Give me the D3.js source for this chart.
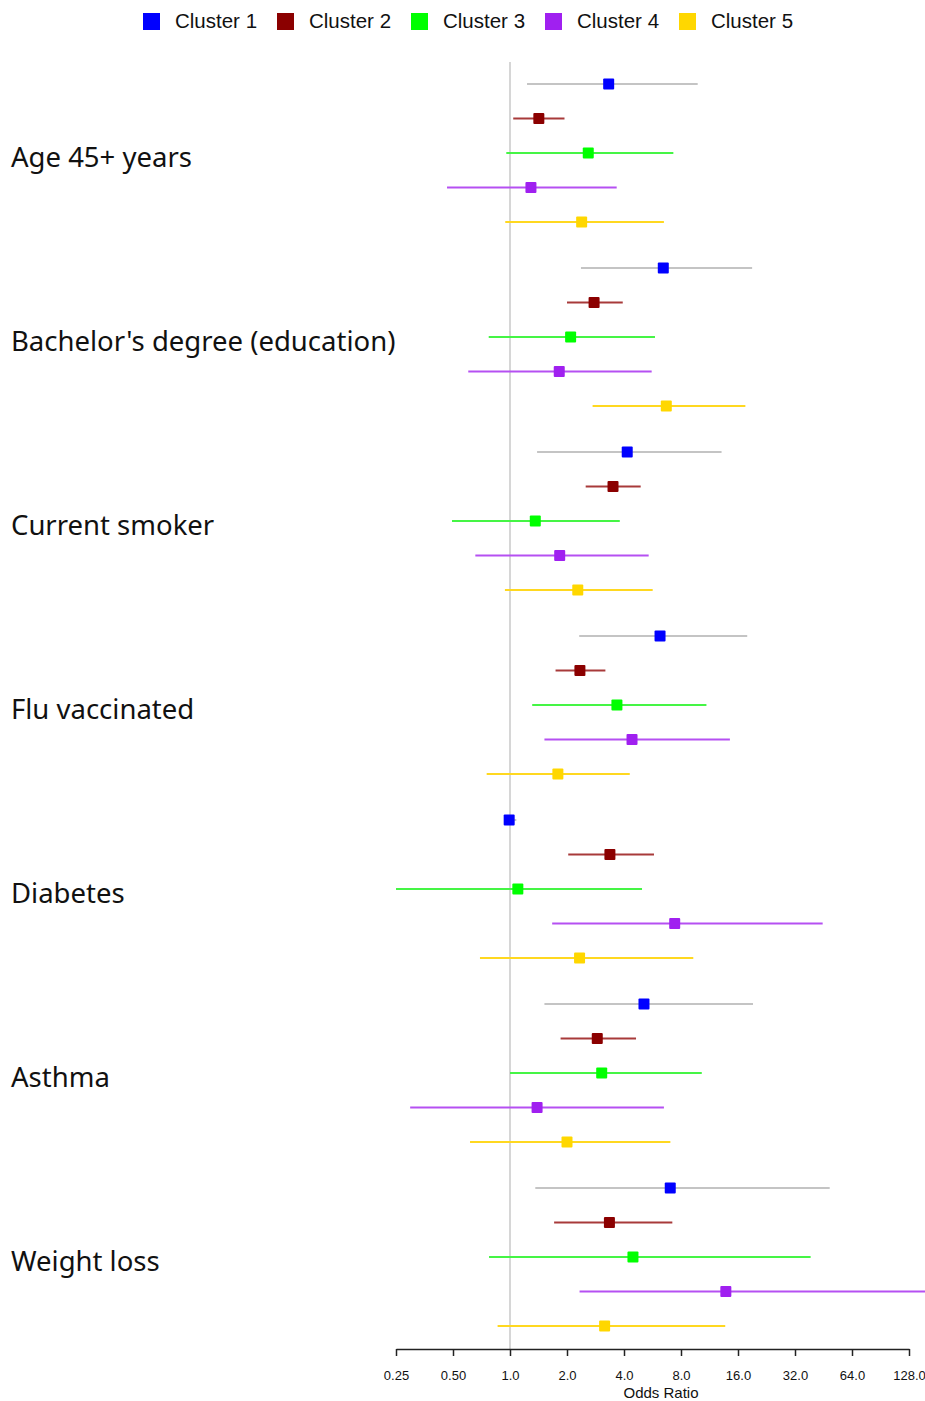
<!DOCTYPE html>
<html>
<head>
<meta charset="utf-8">
<script src="https://cdn.jsdelivr.net/npm/d3@7"></script>
<style>
  body { margin: 0; background: #fff; }
  svg { display: block; }
</style>
</head>
<body>
<svg id="chart"></svg>
<script>
// Factors (rows of groups) and clusters
const factors = ["Age 45+ years", "Bachelor's degree (education)", "Current smoker",
  "Flu vaccinated", "Diabetes", "Asthma", "Weight loss"];
const clusters = ["Cluster 1", "Cluster 2", "Cluster 3", "Cluster 4", "Cluster 5"];
const pointColors = ["#0000ff", "#8b0000", "#00ff00", "#a020f0", "#ffd700"];
const lineColors = ["#c4c4c4", "#a83a3a", "#45f545", "#b550f2", "#ffd820"];

// odds ratios, one array per cluster, in factor order
const oddsRatio = [
  [3.32, 6.45, 4.16, 6.2, 0.99, 5.1, 7.02],
  [1.42, 2.78, 3.5, 2.34, 3.37, 2.89, 3.35],
  [2.59, 2.09, 1.36, 3.67, 1.10, 3.05, 4.46],
  [1.29, 1.82, 1.83, 4.41, 7.41, 1.39, 13.8],
  [2.39, 6.69, 2.28, 1.79, 2.33, 2.0, 3.16]
];
const lowerCI = [
  [1.23, 2.37, 1.39, 2.32, 0.96, 1.52, 1.36],
  [1.04, 2.0, 2.51, 1.74, 2.03, 1.85, 1.71],
  [0.956, 0.772, 0.494, 1.31, 0.25, 1.0, 0.775],
  [0.465, 0.602, 0.656, 1.52, 1.67, 0.297, 2.33],
  [0.944, 2.73, 0.94, 0.753, 0.694, 0.615, 0.86]
];
const upperCI = [
  [9.8, 19.0, 13.1, 17.9, 1.08, 19.2, 48.8],
  [1.94, 3.94, 4.9, 3.19, 5.76, 4.63, 7.2],
  [7.29, 5.83, 3.8, 10.9, 4.98, 10.3, 38.7],
  [3.66, 5.6, 5.4, 14.5, 44.8, 6.5, 160],
  [6.5, 17.5, 5.67, 4.29, 9.29, 7.03, 13.7]
];
const tickValues = [0.25, 0.5, 1, 2, 4, 8, 16, 32, 64, 128];
const tickLabels = ["0.25", "0.50", "1.0", "2.0", "4.0", "8.0", "16.0", "32.0", "64.0", "128.0"];

const width = 925, height = 1401;
const axisY = 1349;

const svg = d3.select("#chart")
  .attr("width", width)
  .attr("height", height);

// scales
const x = d3.scaleLog().base(2)
  .domain([0.25, 128])
  .range([396, 909]);

const yGroup = d3.scaleBand()
  .domain(factors)
  .range([84, 1326])
  .paddingInner(0.25)
  .paddingOuter(0);

const yRow = d3.scalePoint()
  .domain(clusters)
  .range([0, yGroup.bandwidth()]);

// reference line at OR = 1
svg.append("line")
  .attr("x1", x(1)).attr("x2", x(1))
  .attr("y1", 62).attr("y2", axisY)
  .attr("stroke", "#d6d6d6")
  .attr("stroke-width", 2);

// rows
const rows = [];
clusters.forEach((c, ci) => {
  factors.forEach((f, fi) => {
    rows.push({ factor: f, cluster: c, ci: ci,
      or: oddsRatio[ci][fi], lo: lowerCI[ci][fi], hi: upperCI[ci][fi] });
  });
});

const plot = svg.append("g");

plot.selectAll(".ci")
  .data(rows)
  .enter()
  .append("line")
  .attr("class", "ci")
  .attr("x1", d => x(d.lo))
  .attr("x2", d => x(d.hi))
  .attr("y1", d => yGroup(d.factor) + yRow(d.cluster))
  .attr("y2", d => yGroup(d.factor) + yRow(d.cluster))
  .attr("stroke", d => lineColors[d.ci])
  .attr("stroke-width", 2);

const sq = 11;
plot.selectAll(".pt")
  .data(rows)
  .enter()
  .append("rect")
  .attr("class", "pt")
  .attr("x", d => x(d.or) - sq / 2)
  .attr("y", d => yGroup(d.factor) + yRow(d.cluster) - sq / 2)
  .attr("width", sq)
  .attr("height", sq)
  .attr("rx", 1)
  .attr("fill", d => pointColors[d.ci]);

// factor labels
svg.selectAll(".factor")
  .data(factors)
  .enter()
  .append("text")
  .attr("class", "factor")
  .attr("x", 11)
  .attr("y", d => yGroup(d) + yGroup.bandwidth() / 2 + 13.5)
  .attr("font-family", "'Noto Sans', 'Open Sans', sans-serif")
  .attr("font-size", 27.5)
  .attr("fill", "#111")
  .text(d => d);

// x axis
const xAxis = d3.axisBottom(x)
  .tickValues(tickValues)
  .tickFormat((d, i) => tickLabels[i])
  .tickSizeOuter(0)
  .tickSizeInner(7)
  .tickPadding(15);

const axisG = svg.append("g")
  .attr("transform", `translate(0,${axisY})`)
  .call(xAxis);
axisG.select(".domain").attr("stroke", "#222").attr("stroke-width", 1.5);
axisG.selectAll(".tick line").attr("stroke", "#222").attr("stroke-width", 1.5);
axisG.selectAll(".tick text")
  .attr("font-family", "'Liberation Sans', Arial, sans-serif")
  .attr("font-size", 13)
  .attr("fill", "#111");

svg.append("text")
  .attr("x", x(8) - 20)
  .attr("y", 1398)
  .attr("text-anchor", "middle")
  .attr("font-family", "'Liberation Sans', Arial, sans-serif")
  .attr("font-size", 15)
  .attr("fill", "#111")
  .text("Odds Ratio");

// legend
const legend = svg.append("g").attr("transform", "translate(143,13)");
const item = legend.selectAll(".leg")
  .data(clusters)
  .enter()
  .append("g")
  .attr("transform", (d, i) => `translate(${i * 134},0)`);
item.append("rect")
  .attr("width", 17).attr("height", 17)
  .attr("fill", (d, i) => pointColors[i]);
item.append("text")
  .attr("x", 32)
  .attr("y", 15)
  .attr("font-family", "'Liberation Sans', Arial, sans-serif")
  .attr("font-size", 20.5)
  .attr("fill", "#111")
  .text(d => d);
</script>
</body>
</html>
